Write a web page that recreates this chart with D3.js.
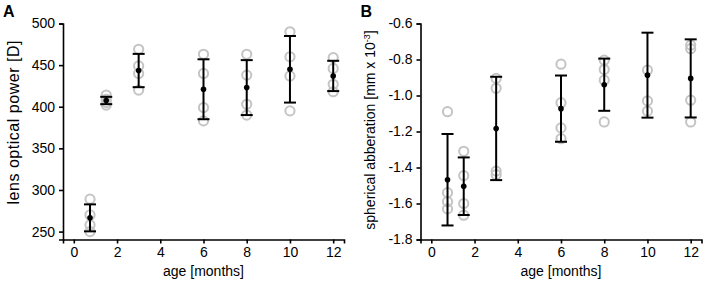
<!DOCTYPE html>
<html>
<head>
<meta charset="utf-8">
<script src="https://cdn.jsdelivr.net/npm/d3@7"></script>
<style>
  body { margin: 0; background: #fff; }
  text { font-family: "Liberation Sans", Arial, sans-serif; }
</style>
</head>
<body>
<div id="my_dataviz"></div>
<script>
// ages of the groups (months)
var ages = [0.75, 1.5, 3, 6, 8, 10, 12];

// panel A: lens optical power [D]
var powerPoints = [
    [289, 270, 258, 250],
    [414, 409, 405, 402],
    [469, 449, 440, 420],
    [463, 440, 399, 383],
    [463, 438, 403, 390],
    [490, 460, 437, 395],
    [459, 446, 427, 418]
];
var powerMean = [266.5, 407.5, 443.5, 421, 423, 445, 437];
var powerSd = [16.2, 4.4, 20, 36, 33, 40, 18.2];
var powerTicks = [250, 300, 350, 400, 450, 500];

// panel B: spherical abberation [mm x 10^-3]
var sphPoints = [
    [-1.09, -1.54, -1.59, -1.63],
    [-1.31, -1.445, -1.6, -1.665],
    [-0.905, -0.96, -1.42, -1.44],
    [-0.826, -1.04, -1.18, -1.24],
    [-0.804, -0.856, -0.915, -1.147],
    [-0.859, -1.03, -1.087],
    [-0.72, -0.74, -1.026, -1.147]
];
var sphMean = [-1.468, -1.504, -1.183, -1.073, -0.94, -0.887, -0.905];
var sphSd = [0.254, 0.16, 0.287, 0.184, 0.145, 0.236, 0.217];
var sphTicks = [-1.8, -1.6, -1.4, -1.2, -1.0, -0.8, -0.6];

var xTicks = [0, 2, 4, 6, 8, 10, 12];

var svg = d3.select("#my_dataviz")
    .append("svg")
    .attr("width", 704)
    .attr("height", 282);

function drawPanel(opt) {
    var g = svg.append("g");

    var x = d3.scaleLinear()
        .domain([-0.5, 12.5])
        .range([opt.left, opt.left + 281]);
    var y = d3.scaleLinear()
        .domain(opt.yDomain)
        .range([239.5, 23.5]);

    // x axis
    var xa = g.append("g")
        .attr("transform", "translate(0,239.5)")
        .call(d3.axisBottom(x).tickValues(xTicks).tickSizeOuter(0).tickSize(4).tickPadding(4));
    // y axis
    var ya = g.append("g")
        .attr("transform", "translate(" + opt.left + ",0)")
        .call(d3.axisLeft(y).tickValues(opt.ticks).tickFormat(opt.fmt).tickSizeOuter(0).tickSize(4).tickPadding(4));
    [xa, ya].forEach(function (a) {
        a.selectAll("path, line").attr("stroke", "#000").attr("stroke-width", 1.6);
        a.selectAll("text").attr("font-size", 14).attr("fill", "#000")
            .style("font-family", "'Liberation Sans', Arial, sans-serif");
    });

    // individual points
    opt.points.forEach(function (pts, i) {
        g.append("g")
            .selectAll("circle")
            .data(pts)
            .enter()
            .append("circle")
            .attr("cx", x(ages[i]))
            .attr("cy", function (d) { return y(d); })
            .attr("r", 4.6)
            .attr("fill", "none")
            .attr("stroke", "#c4c4c4")
            .attr("stroke-width", 2);
    });

    // error bars
    var bars = g.append("g")
        .selectAll("g")
        .data(opt.mean)
        .enter()
        .append("g");
    bars.append("line")
        .attr("x1", function (d, i) { return x(ages[i]); })
        .attr("x2", function (d, i) { return x(ages[i]); })
        .attr("y1", function (d, i) { return y(d + opt.sd[i]); })
        .attr("y2", function (d, i) { return y(d - opt.sd[i]); });
    [1, -1].forEach(function (s) {
        bars.append("line")
            .attr("x1", function (d, i) { return x(ages[i]) - 6; })
            .attr("x2", function (d, i) { return x(ages[i]) + 6; })
            .attr("y1", function (d, i) { return y(d + s * opt.sd[i]); })
            .attr("y2", function (d, i) { return y(d + s * opt.sd[i]); });
    });
    bars.selectAll("line").attr("stroke", "#000").attr("stroke-width", 2);

    // means
    g.append("g")
        .selectAll("circle")
        .data(opt.mean)
        .enter()
        .append("circle")
        .attr("cx", function (d, i) { return x(ages[i]); })
        .attr("cy", function (d) { return y(d); })
        .attr("r", 2.8)
        .attr("fill", "#000");

    // labels
    g.append("text")
        .attr("x", x(6))
        .attr("y", 276)
        .attr("text-anchor", "middle")
        .attr("font-size", 14)
        .text("age [months]");

    var yl = g.append("text")
        .attr("transform", "translate(" + opt.ylabelX + "," + opt.ylabelY + ") rotate(-90)")
        .attr("text-anchor", "middle")
        .attr("font-size", 14);
    opt.ylabel(yl);

    g.append("text")
        .attr("x", opt.left - 60)
        .attr("y", 17)
        .attr("font-size", 16)
        .attr("font-weight", "bold")
        .text(opt.tag);
}

drawPanel({
    left: 63,
    yDomain: [240.5, 500],
    ticks: powerTicks,
    fmt: function (d) { return d; },
    points: powerPoints,
    mean: powerMean,
    sd: powerSd,
    ylabelX: 19,
    ylabelY: 122.5,
    ylabel: function (t) {
        t.attr("font-size", 16).attr("textLength", 164).attr("lengthAdjust", "spacing")
            .text("lens optical power [D]");
    },
    tag: "A"
});

drawPanel({
    left: 420.5,
    yDomain: [-1.8, -0.6],
    ticks: sphTicks,
    fmt: function (d) { return d.toFixed(1); },
    points: sphPoints,
    mean: sphMean,
    sd: sphSd,
    ylabelX: 375,
    ylabelY: 130,
    ylabel: function (t) {
        t.append("tspan").text("spherical abberation [mm x 10");
        t.append("tspan").attr("font-size", 9).attr("dy", -5).text("-3");
        t.append("tspan").attr("dy", 5).text("]");
    },
    tag: "B"
});
</script>
</body>
</html>
